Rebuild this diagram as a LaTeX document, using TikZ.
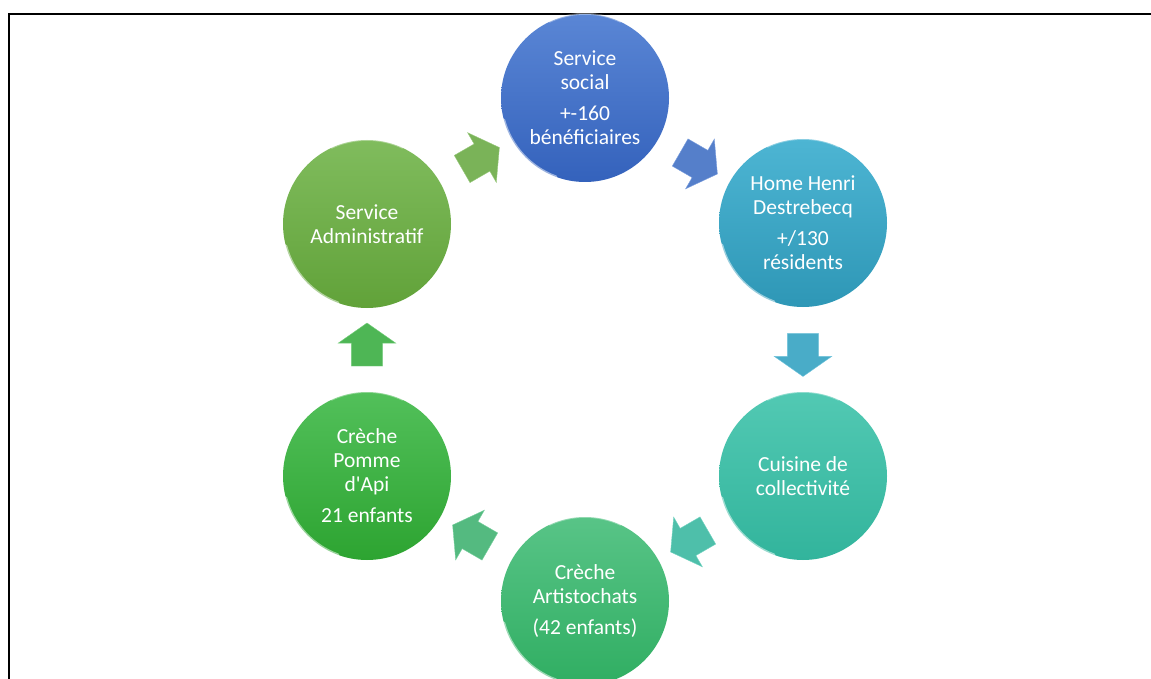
\documentclass[tikz,border=0pt]{standalone}
\usepackage{fontspec}
\setmainfont{Carlito}
\usetikzlibrary{shapes.arrows,calc}

\definecolor{socialtop}{HTML}{5A86D5}
\definecolor{socialbot}{HTML}{3462BC}
\definecolor{hometop}{HTML}{4DB5D3}
\definecolor{homebot}{HTML}{2E97B6}
\definecolor{cuisinetop}{HTML}{52C9B3}
\definecolor{cuisinebot}{HTML}{32B49C}
\definecolor{artistotop}{HTML}{58C487}
\definecolor{artistobot}{HTML}{30AE62}
\definecolor{pommetop}{HTML}{52C05A}
\definecolor{pommebot}{HTML}{2DA431}
\definecolor{admintop}{HTML}{80BC5D}
\definecolor{adminbot}{HTML}{61A239}

\begin{document}
\begin{tikzpicture}[x=1pt,y=-1pt,
	bubble/.style={circle,minimum size=168pt,inner sep=0pt,text=white,align=center,
		font=\fontsize{21.5}{24}\selectfont},
	blockarrow/.style={single arrow,minimum height=43pt,minimum width=57pt,inner xsep=0pt,
		inner ysep=15.5pt,single arrow head extend=13pt,single arrow tip angle=110},
	gloss/.style={white,opacity=0.5,line width=3pt,line cap=round}]
	\useasboundingbox (0,0) rectangle (1151,679);
	\draw[line width=2pt] (9,14) rectangle (1170,700);

	\node[bubble,top color=socialtop,bottom color=socialbot] (social) at (585,98) {Service\\social\\[7pt]+-160\\bénéficiaires};
	\node[bubble,top color=hometop,bottom color=homebot] (home) at (803,223) {Home Henri\\Destrebecq\\[7pt]+/130\\résidents};
	\node[bubble,top color=cuisinetop,bottom color=cuisinebot] (cuisine) at (803,476) {Cuisine de\\collectivité};
	\node[bubble,top color=artistotop,bottom color=artistobot] (artisto) at (585,601) {Crèche\\Artistochats\\[7pt](42 enfants)};
	\node[bubble,top color=pommetop,bottom color=pommebot] (pomme) at (367,476) {Crèche\\Pomme\\d\textquotesingle Api\\[7pt]21 enfants};
	\node[bubble,top color=admintop,bottom color=adminbot] (admin) at (367,224) {Service\\Administratif};

	\foreach \n in {social,home,cuisine,artisto,pomme,admin}{
		\draw[gloss] (\n.195) arc[start angle=195,end angle=250,radius=84pt];
		\draw[gloss,opacity=0.35,line width=2pt] (\n.65) arc[start angle=65,end angle=115,radius=84pt];
	}

	\node[blockarrow,fill=socialtop!95!black,draw=socialtop!80!white,rotate=-30] (a1) at ($(social)!0.5!(home)$) {};
	\node[blockarrow,fill=hometop!95!black,draw=hometop!80!white,rotate=-90] (a2) at ($(home)!0.5!(cuisine)$) {};
	\node[blockarrow,fill=cuisinetop!95!black,draw=cuisinetop!80!white,rotate=-150] (a3) at ($(cuisine)!0.5!(artisto)$) {};
	\node[blockarrow,fill=artistotop!95!black,draw=artistotop!80!white,rotate=150] (a4) at ($(artisto)!0.5!(pomme)$) {};
	\node[blockarrow,fill=pommetop!95!black,draw=pommetop!80!white,rotate=90] (a5) at ($(pomme)!0.5!(admin)$) {};
	\node[blockarrow,fill=admintop!95!black,draw=admintop!80!white,rotate=30] (a6) at ($(admin)!0.5!(social)$) {};

\end{tikzpicture}
\end{document}
